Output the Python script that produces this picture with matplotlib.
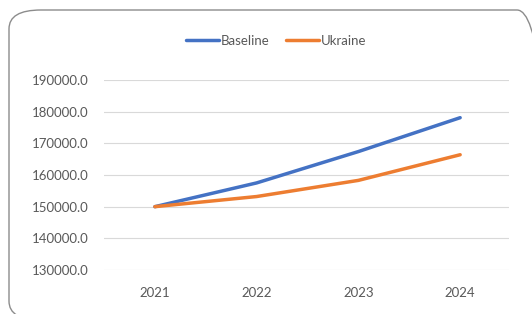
import matplotlib.pyplot as plt
from matplotlib.patches import FancyBboxPatch

# Data
years = ["2021", "2022", "2023", "2024"]
baseline = [150000, 157500, 167400, 178100]
ukraine = [150000, 153200, 158300, 166400]
yticks = [130000, 140000, 150000, 160000, 170000, 180000, 190000]

W, H = 532, 314
plt.rcParams['font.family'] = ['Lato', 'DejaVu Sans']
fig = plt.figure(figsize=(W / 100, H / 100), dpi=100)

# rounded frame around the chart (runs past right/bottom edges)
frame = FancyBboxPatch((9 / W, -6 / H), 540 / W, 310 / H,
                       boxstyle="round,pad=0,rounding_size=0.06",
                       transform=fig.transFigure, fill=False,
                       edgecolor="#8c8c8c", linewidth=1.0, clip_on=False)
fig.patches.append(frame)

ax = fig.add_axes([104 / W, (H - 270) / H, 405 / W, 190 / H])
x = range(len(years))
ax.plot(x, baseline, color="#4472C4", lw=2.5, label="Baseline", solid_capstyle="round")
ax.plot(x, ukraine, color="#ED7D31", lw=2.5, label="Ukraine", solid_capstyle="round")

ax.set_xlim(-0.5, 3.48)
ax.set_ylim(130000, 190000)
ax.set_yticks(yticks)
ax.set_yticklabels(["%.1f" % v for v in yticks])
ax.set_xticks(list(x))
ax.set_xticklabels(years)
ax.yaxis.grid(True, color="#d9d9d9", lw=0.8)
ax.set_axisbelow(True)
for s in ax.spines.values():
    s.set_visible(False)
ax.tick_params(length=0, colors="#595959", labelsize=9.5)
ax.tick_params(axis="x", pad=12)
ax.tick_params(axis="y", pad=11)

fig.legend(loc="center", bbox_to_anchor=(276 / W, 1 - 41 / H), ncol=2,
           frameon=False, fontsize=9.5, handlelength=2.5, handletextpad=0.1,
           columnspacing=1.3, labelcolor="#595959")

fig.savefig("out.png", dpi=100)
